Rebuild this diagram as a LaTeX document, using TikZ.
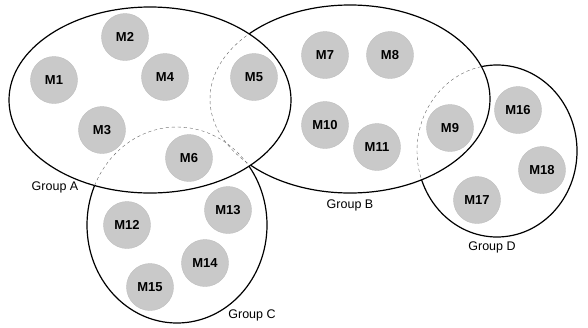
\documentclass[tikz,border=0pt]{standalone}
\usepackage{fontspec}
\setmainfont{Liberation Sans}
\begin{document}
\begin{tikzpicture}[x=1pt,y=-1pt,line join=round,line cap=round,
    mod/.style={circle,fill=gray!42,draw=gray!50,thin,minimum size=47pt,inner sep=0pt,
      font=\bfseries\fontsize{13}{13}\selectfont},
    grp/.style={font=\fontsize{12.5}{12.5}\selectfont},
    rim/.style={line width=1.2pt},
    inrim/.style={gray!80!black,dashed,thin}]
        \useasboundingbox (0,0) rectangle (588,327);
        % modules
        \node[mod] (m1) at (54,80) {M1};
        \node[mod] (m2) at (125,37) {M2};
        \node[mod] (m3) at (102,130) {M3};
        \node[mod] (m4) at (165,77) {M4};
        \node[mod] (m5) at (254,77) {M5};
        \node[mod] (m6) at (189,158) {M6};
        \node[mod] (m7) at (325,55) {M7};
        \node[mod] (m8) at (390,55) {M8};
        \node[mod] (m9) at (450,128) {M9};
        \node[mod] (m10) at (325,125) {M10};
        \node[mod] (m11) at (377,147) {M11};
        \node[mod] (m12) at (127,225) {M12};
        \node[mod] (m13) at (228,210) {M13};
        \node[mod] (m14) at (205,263) {M14};
        \node[mod] (m15) at (150,287) {M15};
        \node[mod] (m16) at (518,110) {M16};
        \node[mod] (m17) at (477,200) {M17};
        \node[mod] (m18) at (542,170) {M18};
        % groups
        \draw[rim] (150,100) ellipse [x radius=141,y radius=93];
        \begin{scope}[even odd rule]
            \clip (0,0) rectangle (588,327) (150,100) ellipse [x radius=141,y radius=93];
            \draw[rim] (350,99) ellipse [x radius=140,y radius=94];
            \draw[rim] (177,225) ellipse [x radius=90,y radius=98];
        \end{scope}
        \begin{scope}
            \clip (150,100) ellipse [x radius=141,y radius=93];
            \draw[inrim] (350,99) ellipse [x radius=140,y radius=94];
            \draw[inrim] (177,225) ellipse [x radius=90,y radius=98];
        \end{scope}
        \begin{scope}[even odd rule]
            \clip (0,0) rectangle (588,327) (350,99) ellipse [x radius=140,y radius=94];
            \draw[rim] (497,151) ellipse [x radius=80,y radius=86];
        \end{scope}
        \begin{scope}
            \clip (350,99) ellipse [x radius=140,y radius=94];
            \draw[inrim] (497,151) ellipse [x radius=80,y radius=86];
        \end{scope}
        \node[grp] (ga) at (55,187) {Group A};
        \node[grp] (gb) at (350,205) {Group B};
        \node[grp] (gc) at (252,315) {Group C};
        \node[grp] (gd) at (492,247) {Group D};
\end{tikzpicture}
\end{document}
